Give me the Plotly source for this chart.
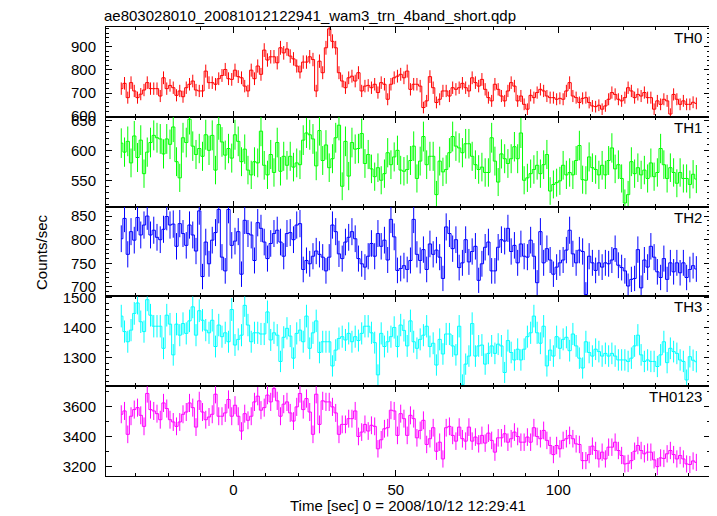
import numpy as np
import plotly.graph_objects as go
from plotly.subplots import make_subplots

# ---- data (1 s bins, first bin starts at t = -35 s) ----
t_start = -35.0
bin_width = 1.0

th0 = [719, 742, 680, 745, 709, 680, 695, 713, 745, 719,
       719, 719, 687, 766, 719, 733, 723, 690, 709, 684,
       723, 738, 752, 713, 709, 709, 795, 745, 745, 738,
       762, 776, 802, 762, 759, 799, 771, 766, 730, 709,
       799, 762, 817, 781, 886, 843, 857, 857, 831, 896,
       874, 891, 860, 848, 817, 791, 834, 834, 857, 845,
       709, 838, 788, 896, 978, 924, 896, 788, 752, 723,
       766,
       773, 752, 788, 709, 730, 733, 723, 738, 702, 745,
       738, 673, 738, 766, 773, 781, 766, 795, 716, 738,
       738, 730, 637, 666, 771, 723, 659, 673, 709, 709,
       687, 723, 716, 723, 742, 723, 709, 766, 745, 730,
       759, 716, 680, 666, 738, 716, 687, 666, 709, 745,
       730, 666, 687, 651, 630, 690, 680, 702, 716, 709,
       687, 680, 680, 673, 677, 673, 709, 745, 687, 680,
       659, 677, 680, 659, 644, 641, 647, 630, 644, 673,
       702, 694, 673, 666, 680, 723, 709, 680, 694, 687,
       702, 680, 680, 630, 666, 651, 673, 666, 609, 694,
       673, 651, 666, 651, 651, 660, 655]

th1 = [612, 597, 615, 579, 624, 588, 617, 561, 597, 613,
       625, 621, 619, 594, 619, 610, 639, 581, 554, 621,
       613, 652, 607, 593, 603, 590, 626, 600, 625, 567,
       643, 614, 592, 603, 587, 626, 615, 581, 602, 567,
       559, 581, 579, 632, 575, 559, 593, 563, 613, 565,
       590, 575, 590, 572, 579, 576, 617, 629, 626, 619,
       574, 633, 583, 609, 571, 586, 621, 642, 540, 615,
       557, 613, 602, 603, 628, 578, 593, 569, 556, 571,
       550, 561, 596, 576, 589, 600, 567, 565,
       568, 583, 607, 553, 582, 623, 576, 590, 590, 526,
       582, 564, 568, 596, 623, 607, 604, 596, 611, 611,
       590, 576, 568, 572, 563, 563, 621, 582, 547, 594,
       586, 578, 586, 606, 586, 629, 550, 554, 561, 568,
       575, 561, 576, 593, 532, 543, 546, 549, 575, 559,
       563, 559, 583, 608, 551, 550, 589, 571, 568, 559,
       575, 559, 583, 604, 569, 576, 553, 512, 526, 581,
       561, 571, 559, 567, 553, 579, 556, 563, 603, 576,
       553, 571, 563, 545, 563, 553, 553, 543, 560, 552]

th2 = [802, 845, 769, 817, 799, 847, 810, 831, 850, 810,
       820, 805, 800, 822, 849, 831, 833, 786, 834, 813,
       788, 831, 810, 776, 861, 722, 795, 749, 799, 815,
       864, 763, 734, 864, 788, 797, 817, 727, 841, 813,
       810, 756, 836, 824, 795, 760, 792, 813, 820, 795,
       765, 813, 815, 800, 831, 834, 737, 756, 749, 765,
       776, 769, 763, 734, 763, 831, 817, 770, 760, 795,
       805, 817, 802, 760, 749, 742, 765, 792, 765, 813,
       786, 799, 757, 843, 806, 735, 739, 745,
       737, 756, 843, 769, 756, 779, 737, 791, 769, 778,
       763, 718, 827, 813, 781, 800, 741, 751, 800, 753,
       775, 786, 714, 749, 784, 795, 734, 734, 784, 800,
       797, 824, 775, 788, 751, 791, 765, 763, 799, 765,
       709, 817, 751, 781, 757, 727, 742, 751, 757, 778,
       820, 770, 751, 778, 775, 684, 765, 751, 735, 751,
       742, 751, 749, 757, 781, 746, 741, 734, 702, 716,
       718, 779, 698, 757, 742, 786, 763, 732, 720, 760,
       716, 751, 732, 751, 730, 751, 720, 737, 745, 738]

th3 = [1438, 1386, 1352, 1391, 1447, 1482, 1419, 1386, 1493, 1441,
       1404, 1404, 1404, 1330, 1441, 1411, 1308, 1411, 1374, 1413,
       1380, 1422, 1469, 1374, 1456, 1424, 1391, 1382, 1424, 1336,
       1408, 1369, 1382, 1352, 1460, 1341, 1360, 1374, 1474, 1408,
       1352, 1382, 1382, 1378, 1378, 1452, 1358, 1382, 1374, 1286,
       1367, 1397, 1371, 1297, 1380, 1391, 1352, 1438, 1330, 1382,
       1422, 1316, 1352, 1352, 1352, 1271, 1324, 1363, 1369, 1358,
       1380, 1352, 1369, 1356, 1380, 1404, 1404, 1382, 1349, 1241,
       1380, 1336, 1352, 1369, 1400, 1336, 1408, 1390,
       1338, 1422, 1352, 1330, 1360, 1374, 1404, 1336, 1347, 1274,
       1360, 1311, 1378, 1378, 1338, 1308, 1404, 1208, 1277, 1304,
       1413, 1304, 1338, 1341, 1277, 1313, 1338, 1313, 1344, 1338,
       1249, 1356, 1316, 1291, 1327, 1291, 1327, 1369, 1382, 1438,
       1382, 1347, 1404, 1271, 1324, 1304, 1369, 1330, 1360, 1367,
       1322, 1378, 1338, 1297, 1264, 1352, 1316, 1304, 1327, 1319,
       1304, 1313, 1304, 1313, 1304, 1291, 1291, 1291, 1286, 1297,
       1338, 1374, 1308, 1286, 1291, 1286, 1286, 1269, 1308, 1352,
       1282, 1330, 1319, 1313, 1291, 1286, 1224, 1302, 1290, 1285]

th0123 = [3549, 3571, 3416, 3536, 3580, 3593, 3542, 3469, 3687, 3580,
          3571, 3553, 3513, 3624, 3587, 3513, 3498, 3469, 3498, 3549,
          3564, 3624, 3593, 3464, 3638, 3564, 3513, 3531, 3549, 3682,
          3536, 3536, 3558, 3647, 3536, 3609, 3536, 3438, 3553, 3509,
          3536, 3631, 3669, 3576, 3593, 3676, 3631, 3720, 3638, 3536,
          3616, 3631, 3558, 3504, 3598, 3687, 3580, 3653, 3564, 3416,
          3682, 3482, 3638, 3631, 3631, 3598, 3558, 3416, 3482, 3482,
          3520, 3520, 3571, 3402, 3431, 3482, 3438, 3476, 3469, 3320,
          3380, 3453, 3460, 3576, 3571, 3409, 3553, 3520,
          3409, 3542, 3520, 3393, 3442, 3509, 3349, 3387, 3460, 3304,
          3364, 3253, 3460, 3469, 3409, 3371, 3464, 3387, 3371, 3464,
          3371, 3398, 3353, 3409, 3358, 3424, 3376, 3298, 3393, 3393,
          3420, 3364, 3387, 3431, 3402, 3364, 3364, 3398, 3364, 3460,
          3402, 3387, 3442, 3376, 3342, 3282, 3342, 3320, 3376, 3387,
          3409, 3387, 3353, 3349, 3242, 3242, 3282, 3338, 3309, 3253,
          3298, 3253, 3331, 3331, 3364, 3309, 3276, 3220, 3224, 3242,
          3304, 3342, 3309, 3287, 3298, 3298, 3247, 3202, 3260, 3256,
          3287, 3309, 3282, 3253, 3276, 3253, 3220, 3216, 3240, 3230]

panel_names = ["TH0", "TH1", "TH2", "TH3", "TH0123"]
series = [th0, th1, th2, th3, th0123]
colors = ["#ff0000", "#00ff00", "#0000ff", "#00ffff", "#ff00ff"]
y_ranges = [[597, 986], [506, 656], [680, 870], [1203, 1504], [3140, 3735]]
y_dticks = [100, 50, 50, 100, 200]
y_minor = [20, 10, 10, 20, 100]

title_text = "ae803028010_20081012122941_wam3_trn_4band_short.qdp"
x_title = "Time [sec] 0 = 2008/10/12 12:29:41"
y_title = "Counts/sec"

FONT = "Liberation Sans, Arial, Helvetica, sans-serif"
FS = 15

fig = make_subplots(rows=5, cols=1, shared_xaxes=True, vertical_spacing=0)

for i, (vals, col) in enumerate(zip(series, colors)):
    v = np.array(vals, dtype=float)
    t = t_start + bin_width * (np.arange(len(v)) + 0.5)
    fig.add_trace(go.Scatter(
        x=t, y=v, mode="lines",
        line=dict(color=col, width=1, shape="hvh"),
        error_y=dict(type="data", array=np.sqrt(v), color=col,
                     thickness=1, width=0),
        showlegend=False, hoverinfo="skip"), row=i + 1, col=1)
    fig.update_yaxes(range=y_ranges[i], dtick=y_dticks[i], tick0=0,
                     minor=dict(ticks="inside", ticklen=3, dtick=y_minor[i],
                                tick0=0, tickcolor="black", tickwidth=1),
                     row=i + 1, col=1)
    fig.add_annotation(text=panel_names[i], xref=f"x{'' if i == 0 else i + 1} domain",
                       yref=f"y{'' if i == 0 else i + 1} domain",
                       x=0.99, y=0.883, xanchor="right", yanchor="middle",
                       showarrow=False, font=dict(size=FS, color="black", family=FONT))

fig.update_xaxes(range=[-39.2, 146.7], dtick=50, tick0=0, ticks="inside",
                 ticklen=6, tickwidth=1, tickcolor="black",
                 minor=dict(ticks="inside", ticklen=3, dtick=10, tick0=0,
                            tickcolor="black", tickwidth=1),
                 showline=True, linecolor="black", linewidth=1,
                 mirror="allticks", showgrid=False, zeroline=False,
                 tickfont=dict(size=FS, color="black", family=FONT))
fig.update_yaxes(ticks="inside", ticklen=6, tickwidth=1, tickcolor="black",
                 showline=True, linecolor="black", linewidth=1,
                 mirror="allticks", showgrid=False, zeroline=False,
                 ticklabelstandoff=6,
                 tickfont=dict(size=FS, color="black", family=FONT))

# page has an 8 px body margin: figure coordinates = page coordinates - 8
OFF = 8
W, H = 717 - OFF, 516 - OFF
PX_L, PX_R, PX_T, PX_B = 106, 710, 27, 476   # plot area in page pixels
L = PX_L - OFF
R = W - (PX_R - OFF)
T = PX_T - OFF
B = H - (PX_B - OFF)
pw, ph = PX_R - PX_L, PX_B - PX_T

def px2paper(px, py):
    return (px - PX_L) / pw, (PX_B - py) / ph

tx, ty = px2paper(102, 16)
fig.add_annotation(text=title_text, xref="paper", yref="paper", x=tx, y=ty,
                   xanchor="left", yanchor="middle", showarrow=False,
                   font=dict(size=FS, color="black", family=FONT))
yx, yy = px2paper(41, 252)
fig.add_annotation(text=y_title, xref="paper", yref="paper", x=yx, y=yy,
                   xanchor="center", yanchor="middle", textangle=-90, showarrow=False,
                   font=dict(size=FS, color="black", family=FONT))
xx, xy = px2paper(408, 506)
fig.add_annotation(text=x_title, xref="paper", yref="paper", x=xx, y=xy,
                   xanchor="center", yanchor="middle", showarrow=False,
                   font=dict(size=FS, color="black", family=FONT))

fig.update_layout(width=W, height=H, margin=dict(l=L, r=R, t=T, b=B),
                  paper_bgcolor="white", plot_bgcolor="white",
                  font=dict(family=FONT, size=FS, color="black"))

fig.write_html("out.html")
